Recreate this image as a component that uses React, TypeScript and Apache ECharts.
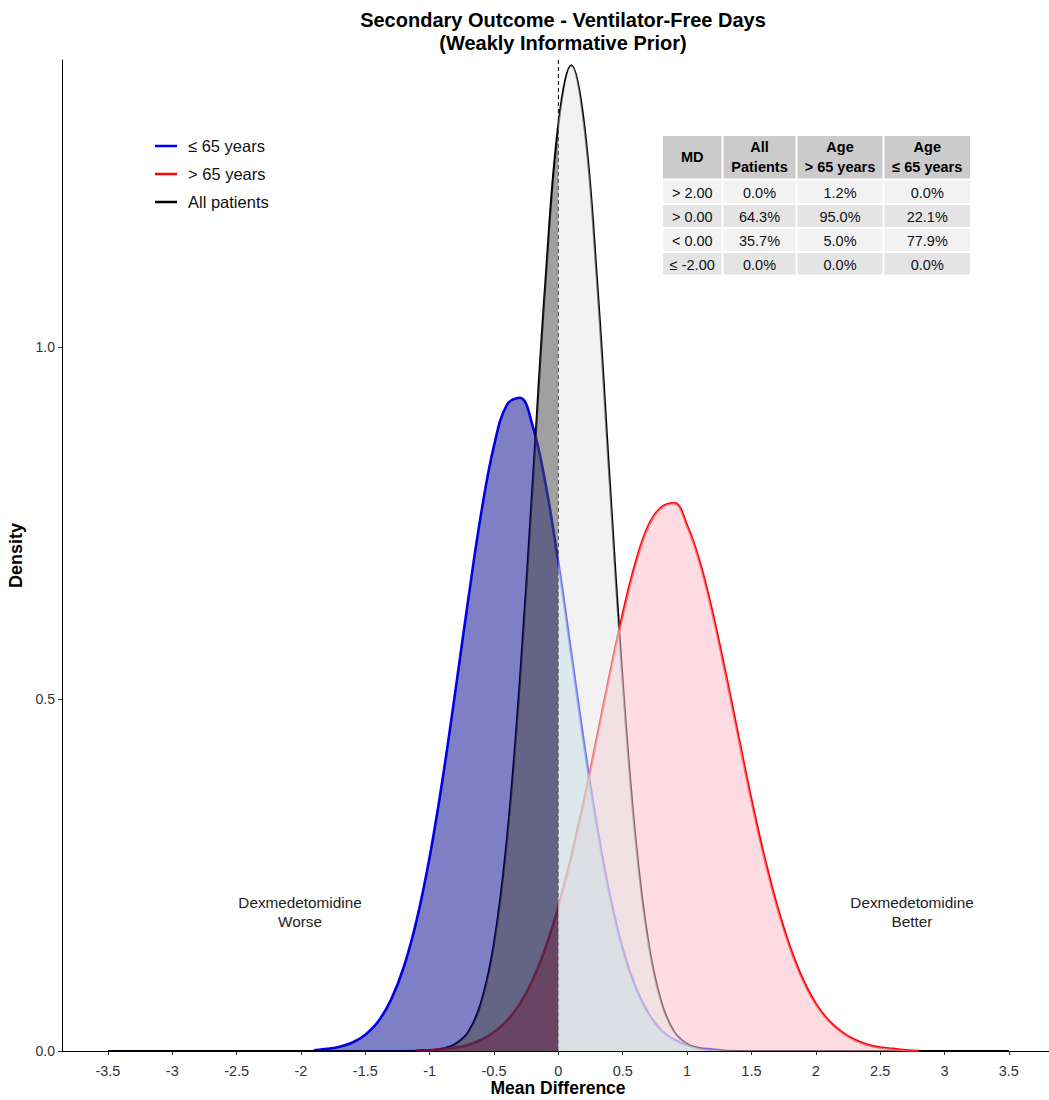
import React, { useEffect, useRef } from 'react';
import * as echarts from 'echarts';

// ---------- data ----------
const xTicks = [-3.5, -3, -2.5, -2, -1.5, -1, -0.5, 0, 0.5, 1, 1.5, 2, 2.5, 3, 3.5];
const yTicks = [0, 0.5, 1.0];

// <= 65 years (blue)
const blueX = [-1.9, -1.8, -1.7, -1.6, -1.5, -1.4, -1.3, -1.2, -1.1, -1.0, -0.9, -0.8, -0.7, -0.6, -0.5, -0.4, -0.3, -0.2, -0.1, 0, 0.1, 0.2, 0.3, 0.4, 0.5, 0.6, 0.7, 0.8, 0.9, 1.0, 1.1, 1.2, 1.3];
const blueY = [0.001, 0.003, 0.006, 0.012, 0.023, 0.042, 0.073, 0.120, 0.187, 0.276, 0.386, 0.512, 0.642, 0.764, 0.860, 0.918, 0.928, 0.888, 0.806, 0.693, 0.564, 0.435, 0.318, 0.220, 0.144, 0.090, 0.053, 0.029, 0.016, 0.008, 0.004, 0.002, 0];

// > 65 years (red)
const redX = [-1.1, -1.0, -0.9, -0.8, -0.7, -0.6, -0.5, -0.4, -0.3, -0.2, -0.1, 0, 0.1, 0.2, 0.3, 0.4, 0.5, 0.6, 0.7, 0.8, 0.9, 1.0, 1.1, 1.2, 1.3, 1.4, 1.5, 1.6, 1.7, 1.8, 1.9, 2.0, 2.1, 2.2, 2.3, 2.4, 2.5, 2.6, 2.7, 2.8];
const redY = [0.001, 0.001, 0.003, 0.005, 0.009, 0.016, 0.027, 0.043, 0.067, 0.101, 0.147, 0.205, 0.275, 0.356, 0.445, 0.535, 0.620, 0.693, 0.746, 0.772, 0.778, 0.746, 0.693, 0.620, 0.535, 0.445, 0.356, 0.275, 0.205, 0.147, 0.101, 0.067, 0.043, 0.027, 0.016, 0.009, 0.005, 0.003, 0.001, 0];

// All patients (black)
const allX = [-3.5, -1.2, -1.1, -1.0, -0.9, -0.8, -0.7, -0.6, -0.5, -0.4, -0.3, -0.2, -0.1, 0, 0.1, 0.2, 0.3, 0.4, 0.5, 0.6, 0.7, 0.8, 0.9, 1.0, 1.1, 1.2, 1.3, 1.4, 3.5];
const allY = [0, 0, 0.0002, 0.001, 0.003, 0.010, 0.027, 0.069, 0.153, 0.300, 0.523, 0.805, 1.094, 1.316, 1.400, 1.316, 1.094, 0.805, 0.523, 0.300, 0.153, 0.069, 0.027, 0.010, 0.003, 0.001, 0.0002, 0, 0];

const legendLabels = ['\u2264 65 years', '> 65 years', 'All patients'];
const legendColors = ['#0000ff', '#ff0000', '#000000'];

const tableHeader = ['MD', 'All\nPatients', 'Age\n> 65 years', 'Age\n\u2264 65 years'];
const tableMD = ['> 2.00', '> 0.00', '< 0.00', '\u2264 -2.00'];
const tableAll = ['0.0%', '64.3%', '35.7%', '0.0%'];
const tableOver65 = ['1.2%', '95.0%', '5.0%', '0.0%'];
const tableUnder65 = ['0.0%', '22.1%', '77.9%', '0.0%'];

const FONT = '"Liberation Sans", Arial, Helvetica, sans-serif';

function pairs(xs: number[], ys: number[]) {
  return xs.map((x, i) => [x, ys[i]]);
}

export default function App() {
  const ref = useRef<HTMLDivElement>(null);

  useEffect(() => {
    if (!ref.current) return;
    const chart = echarts.init(ref.current, undefined, { renderer: 'svg' });

    const blue = pairs(blueX, blueY);
    const red = pairs(redX, redY);
    const all = pairs(allX, allY);
    const left = (p: number[][]) => p.filter((d) => d[0] <= 0);
    const right = (p: number[][]) => p.filter((d) => d[0] >= 0);

    const SMOOTH = 0.4;
    const fill = (data: number[][], color: string, z: number) => ({
      type: 'line',
      data,
      smooth: SMOOTH,
      symbol: 'none',
      silent: true,
      z,
      lineStyle: { width: 0, opacity: 0 },
      areaStyle: { color, opacity: 1 },
    });
    const line = (data: number[][], color: string, width: number, z: number) => ({
      type: 'line',
      data,
      smooth: SMOOTH,
      symbol: 'none',
      silent: true,
      z,
      lineStyle: { color, width },
    });

    const YMAX = 1.4077;

    // table graphics
    const colEdges = [662, 722.5, 796.5, 883.5, 971];
    const rowEdges = [135, 179.5, 204, 228, 252, 275.5];
    const tableEls: any[] = [];
    const bodyCols = [tableMD, tableAll, tableOver65, tableUnder65];
    for (let c = 0; c < 4; c++) {
      const x0 = colEdges[c] + 1;
      const w = colEdges[c + 1] - colEdges[c] - 2;
      tableEls.push({
        type: 'rect',
        shape: { x: x0, y: rowEdges[0] + 1, width: w, height: rowEdges[1] - rowEdges[0] - 2 },
        style: { fill: '#cbcbcb' },
      });
      tableEls.push({
        type: 'text',
        x: (colEdges[c] + colEdges[c + 1]) / 2,
        y: (rowEdges[0] + rowEdges[1]) / 2,
        style: {
          text: tableHeader[c],
          font: `bold 14.5px ${FONT}`,
          fill: '#000',
          align: 'center',
          verticalAlign: 'middle',
          textAlign: 'center',
          textVerticalAlign: 'middle',
          lineHeight: 20,
        },
      });
      for (let r = 0; r < 4; r++) {
        tableEls.push({
          type: 'rect',
          shape: { x: x0, y: rowEdges[r + 1] + 1, width: w, height: rowEdges[r + 2] - rowEdges[r + 1] - 2 },
          style: { fill: r % 2 === 0 ? '#f2f2f2' : '#e4e4e4' },
        });
        tableEls.push({
          type: 'text',
          x: (colEdges[c] + colEdges[c + 1]) / 2,
          y: (rowEdges[r + 1] + rowEdges[r + 2]) / 2 + 1,
          style: {
            text: bodyCols[c][r],
            font: `14.5px ${FONT}`,
            fill: '#111',
            align: 'center',
            verticalAlign: 'middle',
            textAlign: 'center',
            textVerticalAlign: 'middle',
          },
        });
      }
    }

    const legendEls: any[] = [];
    legendLabels.forEach((lab, i) => {
      const y = 146 + i * 28;
      legendEls.push({
        type: 'line',
        shape: { x1: 155, y1: y, x2: 177, y2: y },
        style: { stroke: legendColors[i], lineWidth: 2.5 },
      });
      legendEls.push({
        type: 'text',
        x: 188,
        y,
        style: {
          text: lab,
          font: `16.5px ${FONT}`,
          fill: '#111',
          align: 'left',
          verticalAlign: 'middle',
          textAlign: 'left',
          textVerticalAlign: 'middle',
        },
      });
    });

    const annot = (text: string, x: number) => ({
      type: 'text',
      x,
      y: 912,
      style: {
        text,
        font: `15.3px ${FONT}`,
        fill: '#222',
        align: 'center',
        verticalAlign: 'middle',
        textAlign: 'center',
        textVerticalAlign: 'middle',
        lineHeight: 19,
      },
    });

    chart.setOption({
      animation: false,
      backgroundColor: '#ffffff',
      title: {
        text: 'Secondary Outcome - Ventilator-Free Days\n(Weakly Informative Prior)',
        left: 558,
        top: 3,
        textAlign: 'center',
        textStyle: { fontFamily: FONT, fontSize: 20, fontWeight: 'bold', color: '#000', lineHeight: 23 },
      },
      grid: { left: 62, right: 0, top: 60, bottom: 49, containLabel: false, outerBoundsMode: 'none' },
      xAxis: {
        type: 'value',
        min: -3.857,
        max: 3.812,
        axisLine: { show: true, onZero: false, lineStyle: { color: '#000', width: 1 } },
        axisTick: { show: true, length: 4, customValues: xTicks, lineStyle: { color: '#333' } },
        axisLabel: {
          customValues: xTicks,
          formatter: (v: number) => String(v),
          color: '#333',
          fontSize: 14.5,
          fontFamily: FONT,
          margin: 12,
        },
        splitLine: { show: false },
      },
      yAxis: {
        type: 'value',
        min: 0,
        max: YMAX,
        axisLine: { show: true, onZero: false, lineStyle: { color: '#000', width: 1 } },
        axisTick: { show: true, length: 4, customValues: yTicks, lineStyle: { color: '#333' } },
        axisLabel: {
          customValues: yTicks,
          formatter: (v: number) => v.toFixed(1),
          color: '#333',
          fontSize: 14,
          fontFamily: FONT,
          margin: 7,
        },
        splitLine: { show: false },
        name: 'Density',
        nameLocation: 'middle',
        nameGap: 36,
        nameTextStyle: { fontFamily: FONT, fontSize: 18, fontWeight: 'bold', color: '#000' },
      },
      series: [
        {
          type: 'line',
          data: [[0, 0], [0, YMAX]],
          symbol: 'none',
          silent: true,
          z: 1,
          lineStyle: { color: '#000', width: 1, type: [4, 3] },
        },
        line(blue, '#0000ff', 2.6, 2),
        line(all, '#000000', 2.2, 2),
        line(red, '#ff0000', 2.6, 2),
        fill(left(blue), 'rgba(0,0,139,0.5)', 3),
        fill(left(all), 'rgba(76,76,76,0.53)', 4),
        fill(left(red), 'rgba(117,0,30,0.3)', 5),
        fill(right(red), 'rgba(255,192,203,0.55)', 3),
        fill(right(blue), 'rgba(173,216,230,0.55)', 4),
        fill(right(all), 'rgba(230,230,230,0.51)', 5),
      ],
      graphic: [
        ...legendEls,
        ...tableEls,
        annot('Dexmedetomidine\nWorse', 300),
        annot('Dexmedetomidine\nBetter', 912),
        {
          type: 'text',
          x: 558,
          y: 1088,
          style: {
            text: 'Mean Difference',
            font: `bold 17.5px ${FONT}`,
            fill: '#000',
            align: 'center',
            verticalAlign: 'middle',
            textAlign: 'center',
            textVerticalAlign: 'middle',
          },
        },
      ],
    });

    return () => chart.dispose();
  }, []);

  return (
    <div
      ref={ref}
      style={{ position: 'absolute', left: 0, top: 0, width: 1049, height: 1100 }}
    />
  );
}
